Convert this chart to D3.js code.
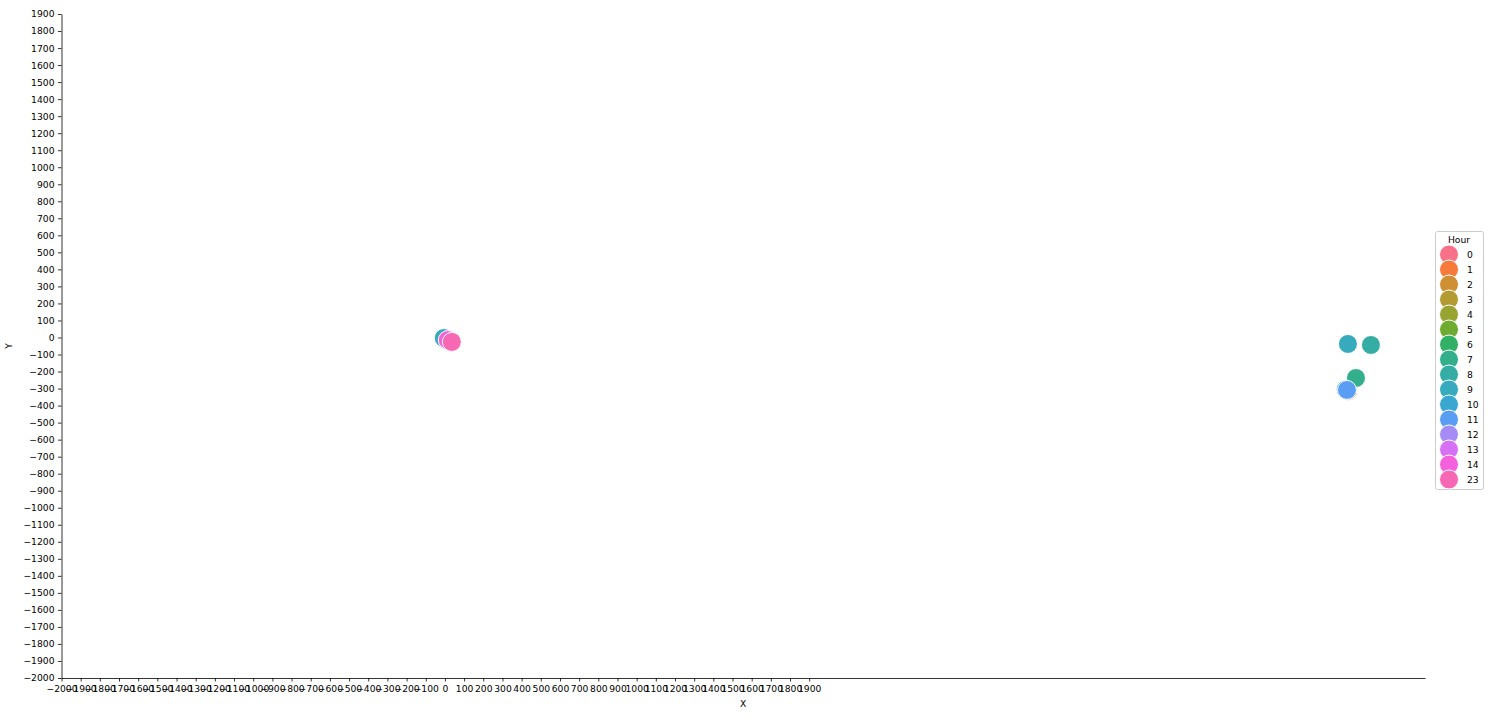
<!DOCTYPE html>
<html><head><meta charset="utf-8">
<script src="https://cdn.jsdelivr.net/npm/d3@7"></script>
<style>
body{margin:0;background:#fff;}
text{font-family:"DejaVu Sans",sans-serif;}
</style></head>
<body><svg id="c" width="1488" height="720"></svg>
<script>
// Data
const hourLevels = ["0","1","2","3","4","5","6","7","8","9","10","11","12","13","14","23"];
const hourColors = ["#f77189","#f67a3b","#ce9032","#b39a31","#97a431","#6fab31","#32b166","#34af8b","#36ada4","#37aabd","#39a7d0","#5a9ef4","#a48cf4","#d670f4","#f561dd","#f668b3"];
const pointHour = ["0","1","2","3","4","5","6","12","13","10","9","14","23","3","12","10","9","8","7","11"];
const pointX = [5,10,15,20,25,30,35,20,25,0,-6,15,36,4712,4708,4698,4710,4830,4752,4705];
const pointY = [-10,-12,-14,-16,-18,-20,-22,-14,-16,-5,-3,-15,-26,-313,-308,-306,-38,-44,-238,-308];
const xTicks = d3.range(-2000, 2000, 100);
const yTicks = d3.range(-2000, 2000, 100);
const xDomain = [-2000, 5112];
const yDomain = [-2000, 1900];

const svg = d3.select("#c");
const L = 61.5, R = 1425, T = 14, B = 678;
const x = d3.scaleLinear().domain(xDomain).range([L, R]);
const y = d3.scaleLinear().domain(yDomain).range([B, T]);
const color = d3.scaleOrdinal().domain(hourLevels).range(hourColors);
const fmt = d => String(d).replace("-", "\u2212");
const FS = 9.2;

const gx = svg.append("g").attr("transform", `translate(0,${B})`)
  .call(d3.axisBottom(x).tickValues(xTicks).tickFormat(fmt).tickSize(3.5).tickPadding(3.5).tickSizeOuter(0));
const gy = svg.append("g").attr("transform", `translate(${L},0)`)
  .call(d3.axisLeft(y).tickValues(yTicks).tickFormat(fmt).tickSize(3.5).tickPadding(3.5).tickSizeOuter(0));
[gx, gy].forEach(g => {
  g.selectAll("text").attr("font-size", FS).attr("fill", "#000").attr("font-family", "DejaVu Sans");
  g.selectAll("line").attr("stroke", "#000").attr("stroke-width", 0.8);
  g.select(".domain").attr("stroke", "#000").attr("stroke-width", 0.8);
});

svg.append("text").attr("x", (L + R) / 2).attr("y", 707).attr("text-anchor", "middle").attr("font-size", FS).text("X");
svg.append("text").attr("transform", `translate(12,${(T + B) / 2}) rotate(-90)`).attr("text-anchor", "middle").attr("font-size", FS).text("Y");

svg.append("g").selectAll("circle").data(pointX.map((d, i) => i)).join("circle")
  .attr("cx", i => x(pointX[i])).attr("cy", i => y(pointY[i])).attr("r", 9.5)
  .attr("fill", i => color(pointHour[i])).attr("stroke", "#fff").attr("stroke-width", 1);

// Legend
const lg = svg.append("g");
lg.append("rect").attr("x", 1435.5).attr("y", 231.5).attr("width", 48).attr("height", 258)
  .attr("fill", "#fff").attr("stroke", "#ccc").attr("rx", 2);
lg.append("text").attr("x", 1459).attr("y", 243).attr("text-anchor", "middle").attr("font-size", FS).text("Hour");
hourLevels.forEach((h, i) => {
  const cy = 254.5 + i * 15;
  lg.append("circle").attr("cx", 1449).attr("cy", cy).attr("r", 9.5).attr("fill", color(h)).attr("stroke", "#fff").attr("stroke-width", 1);
  lg.append("text").attr("x", 1467).attr("y", cy + 3.5).attr("font-size", FS).text(h);
});
</script></body></html>
